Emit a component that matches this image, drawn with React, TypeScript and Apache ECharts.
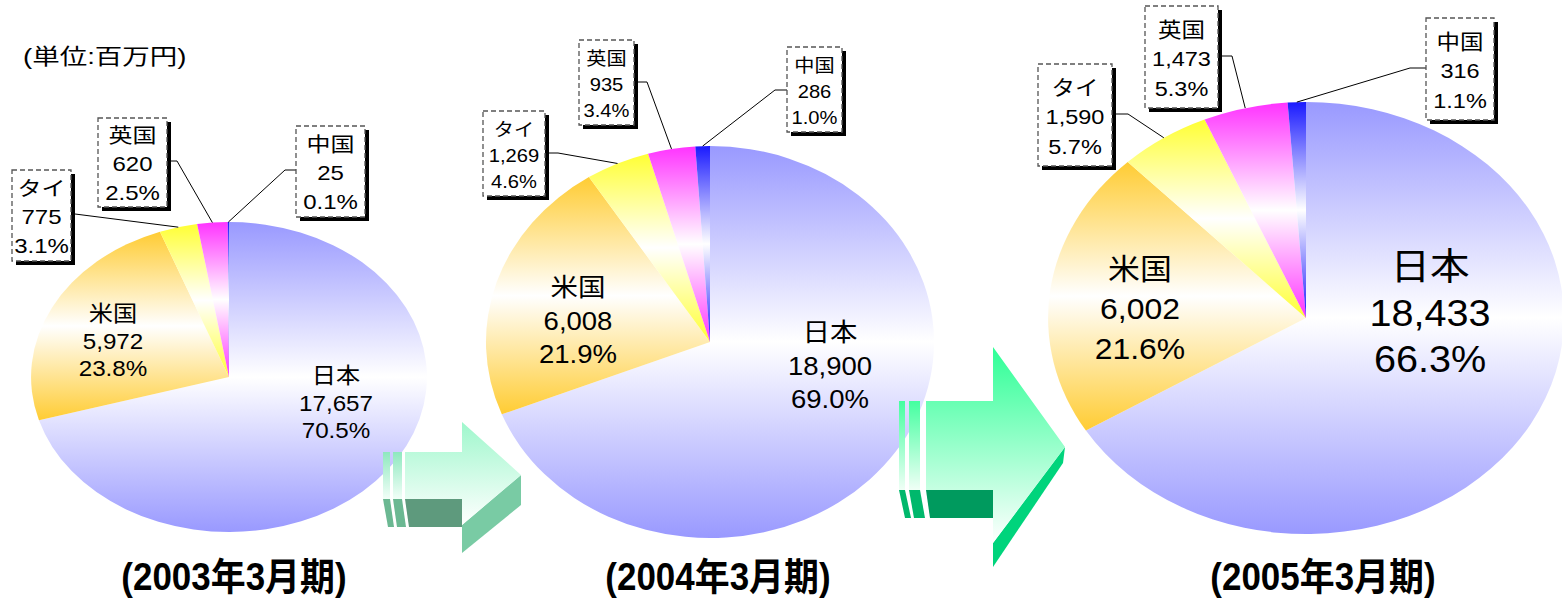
import React, { useEffect, useRef } from "react";
import * as echarts from "echarts";

// ---- data ----
const countries = ["日本", "米国", "タイ", "英国", "中国"];
const periods = ["(2003年3月期)", "(2004年3月期)", "(2005年3月期)"];
const values2003 = [17657, 5972, 775, 620, 25];
const values2004 = [18900, 6008, 1269, 935, 286];
const values2005 = [18433, 6002, 1590, 1473, 316];
const unitLabel = "(単位:百万円)";

// ---- styles / layout ----
const sliceColors = ["#9999ff", "#ffcc33", "#ffff33", "#ff33ff", "#1a1aff"];
const FONT = "'Liberation Sans', Arial, 'Noto Sans CJK JP', sans-serif";

type Box = { x: number; y: number; w: number; h: number; leader: number[][] };
type PieLayout = {
  cx: number; cy: number; rx: number; ry: number;
  innerFont: number; innerScale: number; innerLH: number; inner: number[][];
  boxFont: number; boxScale: number; boxLH: number; boxes: Box[];
  title: number[];
};

const layouts: PieLayout[] = [
  {
    cx: 229, cy: 377, rx: 198, ry: 155,
    innerFont: 22, innerScale: 1.1, innerLH: 27.5, inner: [[336, 403], [113, 341]],
    boxFont: 20, boxScale: 1.2, boxLH: 28.5,
    boxes: [
      { x: 12, y: 170, w: 59, h: 91, leader: [[75, 214]] },
      { x: 98, y: 118, w: 69, h: 89, leader: [[171, 161], [177, 161]] },
      { x: 296, y: 126, w: 69, h: 91, leader: [[296, 170], [285, 170]] },
    ],
    title: [234, 577],
  },
  {
    cx: 710, cy: 342, rx: 224, ry: 196,
    innerFont: 25, innerScale: 1.1, innerLH: 33.5, inner: [[830, 366], [578, 321]],
    boxFont: 18, boxScale: 1.12, boxLH: 26,
    boxes: [
      { x: 483, y: 111, w: 62, h: 85, leader: [[549, 153], [558, 153]] },
      { x: 579, y: 40, w: 55, h: 85, leader: [[638, 82], [647, 82]] },
      { x: 787, y: 47, w: 55, h: 85, leader: [[787, 90], [775, 90]] },
    ],
    title: [718, 577],
  },
  {
    cx: 1306, cy: 318, rx: 258, ry: 216,
    innerFont: 29, innerScale: 1.1, innerLH: 39.5, inner: [[1430, 313], [1140, 309]],
    boxFont: 21, boxScale: 1.12, boxLH: 29.5,
    boxes: [
      { x: 1038, y: 64, w: 74, h: 102, leader: [[1116, 114], [1128, 114]] },
      { x: 1145, y: 6, w: 73, h: 102, leader: [[1222, 56], [1232, 56]] },
      { x: 1426, y: 18, w: 68, h: 102, leader: [[1426, 68], [1410, 68]] },
    ],
    title: [1323, 577],
  },
];
const bigInner = { font: 37, scale: 1.07, lh: 46 }; // 2005 日本 label

function sliceGradient(c: string) {
  return {
    type: "linear", x: 0, y: 0, x2: 0, y2: 1,
    colorStops: [
      { offset: 0, color: c },
      { offset: 0.5, color: "#ffffff" },
      { offset: 1, color: c },
    ],
  };
}

function textEl(text: string, x: number, y: number, size: number, scale: number, weight = "normal", align = "center") {
  return {
    type: "text", x, y, scaleX: scale, silent: true,
    style: { text, fill: "#000", fontSize: size, fontFamily: FONT, fontWeight: weight, align, verticalAlign: "middle" },
  };
}

function makeRenderItem(values: number[], L: PieLayout, pieIndex: number) {
  const total = values.reduce((a, b) => a + b, 0);
  const cum: number[] = [];
  let acc = 0;
  values.forEach((v) => { cum.push(acc); acc += v; });
  return (params: any, api: any) => {
    const i = params.dataIndex;
    let v = Number(api.value(0));
    if (!isFinite(v)) v = values[i];
    const f0 = cum[i] / total;
    const f1 = (cum[i] + v) / total;
    const a0 = -Math.PI / 2 + f0 * Math.PI * 2;
    const a1 = -Math.PI / 2 + f1 * Math.PI * 2;
    const children: any[] = [
      {
        type: "sector", x: L.cx, y: L.cy, scaleX: L.rx / L.ry, silent: true,
        shape: { cx: 0, cy: 0, r0: 0, r: L.ry, startAngle: a0, endAngle: a1, clockwise: true },
        style: { fill: sliceGradient(sliceColors[i]) },
      },
    ];
    const lines = [countries[i], v.toLocaleString("en-US"), ((v / total) * 100).toFixed(1) + "%"];
    if (i < 2) {
      const [tx, ty] = L.inner[i];
      let fs = L.innerFont, sc = L.innerScale, lh = L.innerLH;
      if (pieIndex === 2 && i === 0) { fs = bigInner.font; sc = bigInner.scale; lh = bigInner.lh; }
      lines.forEach((t, k) => children.push(textEl(t, tx, ty + (k - 1) * lh, fs, sc)));
    } else {
      const b = L.boxes[i - 2];
      const mid = ((f0 + f1) / 2) * Math.PI * 2;
      const rim = [L.cx + L.rx * Math.sin(mid), L.cy - L.ry * Math.cos(mid)];
      children.push({
        type: "polyline", silent: true,
        shape: { points: [...b.leader, rim] },
        style: { stroke: "#000", lineWidth: 1, fill: null },
      });
      children.push({ type: "rect", silent: true, shape: { x: b.x + 4, y: b.y + 4, width: b.w, height: b.h }, style: { fill: "#000" } });
      children.push({
        type: "rect", silent: true, shape: { x: b.x, y: b.y, width: b.w, height: b.h },
        style: { fill: "#fff", stroke: "#555", lineWidth: 1.3, lineDash: [5, 3] },
      });
      const tcy = b.y + b.h / 2 + 2;
      lines.forEach((t, k) => children.push(textEl(t, b.x + b.w / 2, tcy + (k - 1) * L.boxLH, L.boxFont, L.boxScale)));
    }
    return { type: "group", children };
  };
}

function vgrad(c0: string, c1: string) {
  return { type: "linear", x: 0, y: 0, x2: 0, y2: 1, colorStops: [{ offset: 0, color: c0 }, { offset: 1, color: c1 }] };
}

function poly(points: number[][], fill: any) {
  return { type: "polygon", z: 10, silent: true, shape: { points }, style: { fill } };
}

const arrows = [
  // small arrow between 2003 and 2004
  poly([[383, 499], [390, 499], [394, 527], [388, 527]], "#6bb892"),
  poly([[393, 499], [402, 499], [406, 527], [397, 527]], "#6bb892"),
  poly([[405, 499], [462, 499], [462, 527], [409, 527]], "#5e9a7d"),
  poly([[462, 525], [521, 475], [521, 505], [462, 553]], "#79cba4"),
  poly([[383, 452], [390, 452], [390, 499], [383, 499]], vgrad("#8ee8bf", "#f2fff8")),
  poly([[393, 452], [402, 452], [402, 499], [393, 499]], vgrad("#8ee8bf", "#f2fff8")),
  poly([[405, 452], [462, 452], [462, 422], [521, 475], [462, 525], [462, 499], [405, 499]], vgrad("#9ff7cc", "#ffffff")),
  // large arrow between 2004 and 2005
  poly([[899, 490], [905, 490], [911, 518], [905, 518]], "#00b86c"),
  poly([[909, 490], [920, 490], [925, 518], [914, 518]], "#00b86c"),
  poly([[926, 490], [993, 490], [993, 518], [930, 518]], "#009a5e"),
  poly([[1065, 447], [1063, 463], [993, 567], [993, 543]], "#00d47c"),
  poly([[899, 401], [905, 401], [905, 490], [899, 490]], vgrad("#44ffa0", "#f0fff6")),
  poly([[909, 401], [920, 401], [920, 490], [909, 490]], vgrad("#44ffa0", "#f0fff6")),
  poly([[926, 401], [993, 401], [993, 347], [1065, 447], [993, 543], [993, 490], [926, 490]], vgrad("#2eff96", "#ffffff")),
];

export default function App() {
  const ref = useRef<HTMLDivElement>(null);
  useEffect(() => {
    if (!ref.current) return;
    const chart = echarts.init(ref.current, null, { renderer: "svg" });
    const allValues = [values2003, values2004, values2005];
    const titleEls = periods.map((p, k) => ({
      ...textEl(p, layouts[k].title[0], layouts[k].title[1], 38, 0.92, "bold"),
      z: 10,
    }));
    chart.setOption({
      animation: false,
      backgroundColor: "#ffffff",
      series: allValues.map((vals, k) => ({
        type: "custom",
        coordinateSystem: "none",
        silent: true,
        data: vals,
        renderItem: makeRenderItem(vals, layouts[k], k),
      })),
      graphic: {
        elements: [
          ...arrows,
          ...titleEls,
          { ...textEl(unitLabel, 23, 56, 22, 1.25, "normal", "left"), z: 10 },
        ],
      },
    });
    return () => chart.dispose();
  }, []);
  return <div ref={ref} style={{ position: "absolute", left: 0, top: 0, width: 1562, height: 604 }} />;
}
